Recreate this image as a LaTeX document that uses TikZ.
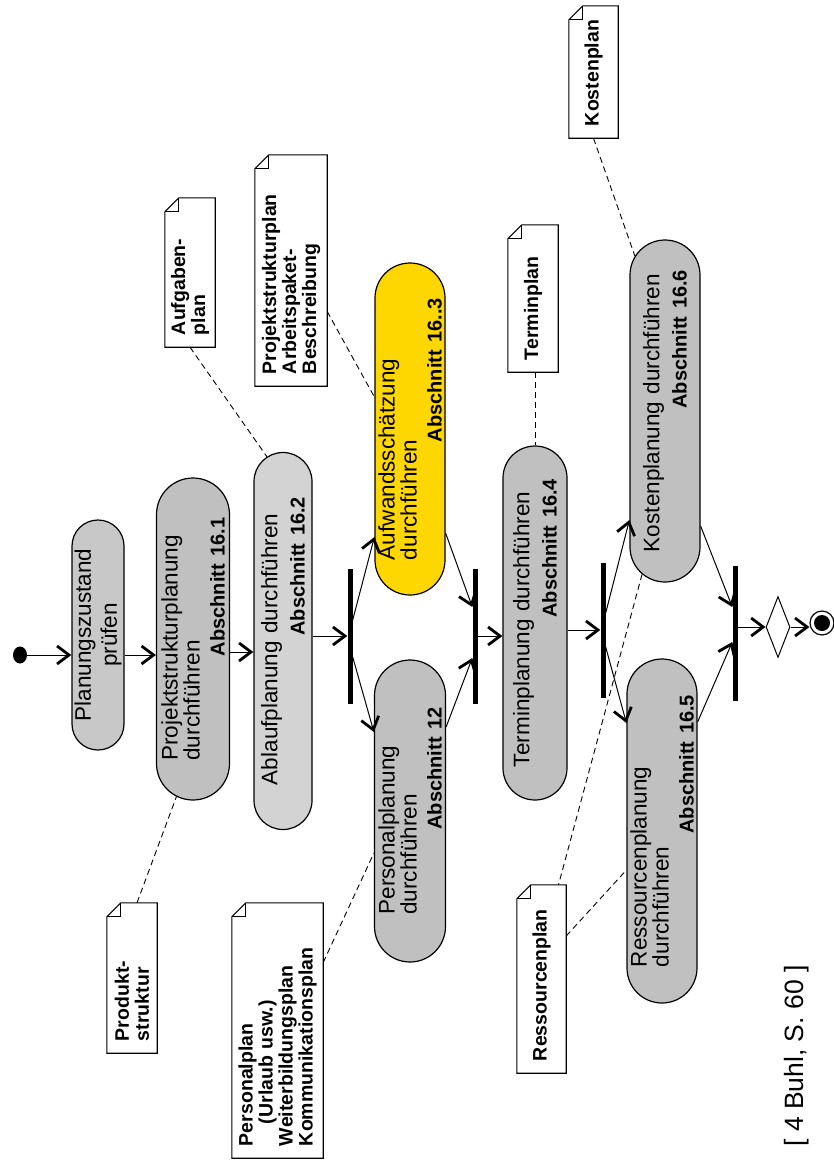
\documentclass[tikz,border=0pt]{standalone}
\usepackage{fontspec}
\setmainfont{Liberation Sans}
\usepackage{tikz}
\usetikzlibrary{arrows.meta,calc,shapes.misc,shapes.geometric}
\definecolor{actgray}{RGB}{192,192,192}
\definecolor{actmid}{RGB}{200,200,200}
\definecolor{actlight}{RGB}{211,211,211}
\definecolor{actyellow}{RGB}{255,215,0}
\newcommand\nohyph{\hyphenpenalty=10000\relax}
\tikzset{
  activity/.style={rounded rectangle,draw=black,line width=1.2pt,rotate=90,inner sep=0pt,
    align=left,font=\fontsize{22.5}{18}\selectfont\nohyph},
  bar/.style={rectangle,fill=black,inner sep=0pt,minimum width=5pt,minimum height=135pt},
  note/.style={rectangle,rotate=90,fill=white,inner xsep=12pt,inner ysep=3pt,align=left,
    font=\fontsize{19.5}{20}\selectfont\bfseries\nohyph},
  noteline/.style={line width=1.1pt,line join=miter},
  flow/.style={-{Straight Barb[length=12pt,width=18pt,line width=2.8pt]},line width=1pt},
  link/.style={dash pattern=on 6pt off 4pt,line width=0.9pt},
  startdot/.style={ellipse,fill=black,minimum width=14pt,minimum height=17pt,inner sep=0pt},
  decision/.style={diamond,draw=black,line width=1pt,fill=white,minimum width=24pt,
    minimum height=61pt,inner sep=0pt},
  endring/.style={circle,draw=black,line width=1.2pt,fill=white,minimum size=24pt,inner sep=0pt},
  endcore/.style={circle,fill=black,minimum size=16pt,inner sep=0pt}
}
\newcommand\abschnitt[1]{\\[7pt]\hspace*{\fill}{\fontsize{20}{20}\selectfont\bfseries #1}}

\begin{document}
\begin{tikzpicture}[x=1pt,y=-1pt]
  \useasboundingbox (0,0) rectangle (834,1163);
  \node[startdot] (start) at (20,655) {};
  \node[activity,fill=actmid,align=center,minimum width=230pt,minimum height=52pt] (plz) at (98,635) {Planungszustand\\[4pt]prüfen};
  \node[activity,fill=actgray,text width=243pt,minimum width=322pt,minimum height=73pt] (psp) at (193,639) {Projektstrukturplanung\\durchführen\abschnitt{Abschnitt 16.1}};
  \node[activity,fill=actlight,text width=288pt,minimum width=377pt,minimum height=58pt] (abl) at (283,641) {Ablaufplanung durchführen\abschnitt{Abschnitt 16.2}};
  \node[bar] (fork1) at (350,636) {};
  \node[activity,fill=actyellow,text width=262pt,minimum width=332pt,minimum height=70pt] (aufw) at (410,429) {Aufwandsschätzung\\durchführen\abschnitt{Abschnitt 16..3}};
  \node[activity,fill=actgray,text width=207pt,minimum width=302pt,minimum height=71pt] (pers) at (410,811) {Personalplanung\\durchführen\abschnitt{Abschnitt 12}};
  \node[bar] (join1) at (475,636) {};
  \node[activity,fill=actgray,text width=288pt,minimum width=354pt,minimum height=64pt] (term) at (535,623) {Terminplanung durchführen\abschnitt{Abschnitt 16.4}};
  \node[bar] (fork2) at (603,630) {};
  \node[activity,fill=actgray,text width=282pt,minimum width=342pt,minimum height=70pt] (kost) at (665,411) {Kostenplanung durchführen\abschnitt{Abschnitt 16.6}};
  \node[activity,fill=actgray,text width=272pt,minimum width=344pt,minimum height=70pt] (ress) at (662,831) {Ressourcenplanung\\durchführen\abschnitt{Abschnitt 16.5}};
  \node[bar] (join2) at (735,633) {};
  \node[decision] (dec) at (778,627) {};
  \node[endring] (end) at (822,623) {};
  \node[endcore] (endc) at (end) {};

  \node[note,text width=126pt,minimum height=50pt] (prod) at (132,978) {Produkt-\\struktur};
  \node[note,text width=231pt,minimum height=91pt] (perspl) at (277.5,1030.5) {Personalplan\\\hspace*{22pt}(Urlaub usw.)\\Weiterbildungsplan\\Kommunikationsplan};
  \node[note,text width=125pt,minimum height=50pt] (aufg) at (190,272.5) {Aufgaben-\\plan};
  \node[note,text width=207pt,minimum height=72pt] (pstp) at (291,270.5) {Projektstrukturplan\\Arbeitspaket-\\Beschreibung};
  \node[note,text width=123pt,minimum height=50pt] (tpl) at (533,298.5) {Terminplan};
  \node[note,text width=108pt,minimum height=49pt] (kpl) at (593.5,72) {Kostenplan};
  \node[note,text width=164pt,minimum height=49pt] (rpl) at (541.5,979) {Ressourcenplan};
  \foreach \n in {prod,perspl,aufg,pstp,tpl,kpl,rpl} {
    \draw[noteline] ($(\n.north east)+(0,14)$) -- ($(\n.north east)+(14,0)$) -- (\n.south east)
      -- (\n.south west) -- (\n.north west) -- cycle;
    \draw[noteline] ($(\n.north east)+(0,14)$) -- ($(\n.north east)+(14,14)$) -- ($(\n.north east)+(14,0)$);
  }
  \node[rotate=90,font=\fontsize{26.5}{26.5}\selectfont] (src) at (797,1056) {[ 4 Buhl, S. 60 ]};

  \draw[flow] (start) -- (start -| plz.north);
  \draw[flow] (plz.south |- start) -- (psp.north |- start);
  \draw[flow] ([yshift=-13pt]psp.south) -- ([yshift=-13pt]psp.south -| abl.north);
  \draw[flow] (abl.south |- fork1) -- (fork1);
  \draw[flow] ([yshift=16pt]fork1.east) -- ([yshift=-108pt]aufw.north);
  \draw[flow] ([yshift=-21pt]fork1.east) -- ([yshift=79pt]pers.north);
  \draw[flow] ([yshift=-104pt]aufw.south) -- ([yshift=29pt]join1.west);
  \draw[flow] ([yshift=84pt]pers.south) -- ([yshift=-22pt]join1.west);
  \draw[flow] (join1) -- (join1 -| term.north);
  \draw[flow] (term.south |- fork2) -- (fork2);
  \draw[flow] ([yshift=17pt]fork2.east) -- ([yshift=-109pt]kost.north);
  \draw[flow] ([yshift=-17pt]fork2.east) -- ([yshift=108pt]ress.north);
  \draw[flow] ([yshift=-115pt]kost.south) -- ([yshift=26pt]join2.west);
  \draw[flow] ([yshift=109pt]ress.south) -- ([yshift=-9pt]join2.west);
  \draw[flow] (dec -| join2.east) -- (dec);
  \draw[flow] (dec) -- (dec -| end.west);

  \draw[link] ([xshift=5pt]prod.east) -- (psp.174);
  \draw[link] ([yshift=68pt]perspl.south) -- ([yshift=-42pt]pers.north);
  \draw[link] (aufg.west) -- (abl.5);
  \draw[link] ([yshift=-41pt]pstp.south) -- ([yshift=32pt]aufw.north);
  \draw[link] (term.east |- tpl.west) -- (term.east);
  \draw[link] (kpl.west) -- (kost.11);
  \draw[link] (kost.172) -- ([xshift=17pt]rpl.east);
  \draw[link] ([yshift=43pt]rpl.south) -- ([yshift=-39pt]ress.north);
\end{tikzpicture}
\end{document}
